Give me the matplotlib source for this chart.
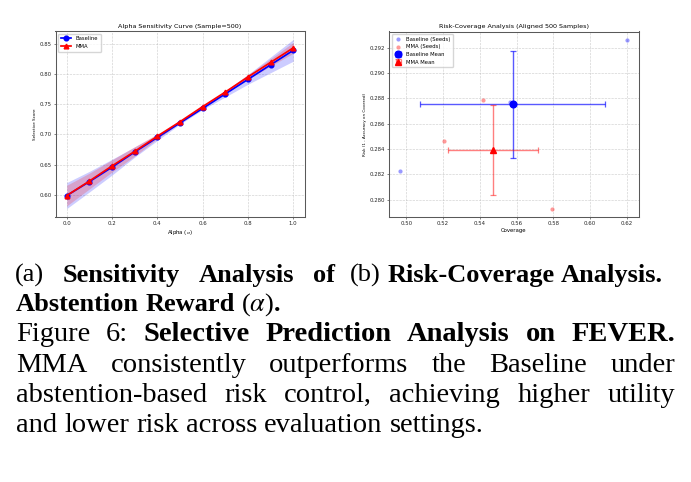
import numpy as np
import matplotlib
matplotlib.use("Agg")
import matplotlib.pyplot as plt

# ---------------- data ----------------
alpha_values = [0.0, 0.1, 0.2, 0.3, 0.4, 0.5, 0.6, 0.7, 0.8, 0.9, 1.0]
baseline_score = [0.599, 0.622, 0.646, 0.671, 0.695, 0.719, 0.743, 0.767, 0.791, 0.815, 0.839]
baseline_std = [0.0215, 0.017, 0.013, 0.0085, 0.005, 0.002, 0.002, 0.005, 0.008, 0.013, 0.018]
mma_score = [0.599, 0.623, 0.648, 0.672, 0.697, 0.721, 0.746, 0.770, 0.795, 0.819, 0.843]
mma_std = [0.017, 0.013, 0.010, 0.0077, 0.004, 0.002, 0.001, 0.002, 0.004, 0.006, 0.009]

baseline_coverage = [0.6202, 0.4968, 0.5565]
baseline_risk = [0.2926, 0.2823, 0.2877]
mma_coverage = [0.5420, 0.5205, 0.5795]
mma_risk = [0.28785, 0.2846, 0.2793]

left_xticks = [0.0, 0.2, 0.4, 0.6, 0.8, 1.0]
left_yticks = [0.60, 0.65, 0.70, 0.75, 0.80, 0.85]
right_xticks = [0.50, 0.52, 0.54, 0.56, 0.58, 0.60, 0.62]
right_yticks = [0.280, 0.282, 0.284, 0.286, 0.288, 0.290, 0.292]

# ---------------- figure ----------------
W, H = 691, 482
plt.rcParams["mathtext.fontset"] = "stix"
fig = plt.figure(figsize=(W / 100, H / 100), dpi=100)


def fx(px):
    return px / W


def fy(py):
    return 1 - py / H


def axes_px(x0, y0, x1, y1):
    return fig.add_axes([fx(x0), fy(y1), (x1 - x0) / W, (y1 - y0) / H])


TICK_FS = 3.9
LABEL_FS = 3.9
YLABEL_FS = 3.0
TITLE_FS = 4.6
LEG_FS = 3.8


def style_axes(ax):
    for s in ax.spines.values():
        s.set_color("0.35")
        s.set_linewidth(0.75)
    ax.tick_params(labelsize=TICK_FS, length=1.5, width=0.4, pad=1.3, colors="0.15")
    ax.grid(True, linestyle="--", linewidth=0.45, color="#b0b0b0", alpha=0.6)
    ax.set_axisbelow(True)


# ---- (a) alpha sensitivity ----
ax1 = axes_px(55.5, 31, 304.5, 217)
a = np.array(alpha_values)
bs, bsd = np.array(baseline_score), np.array(baseline_std)
ms, msd = np.array(mma_score), np.array(mma_std)
ax1.fill_between(a, bs - bsd, bs + bsd, color="blue", alpha=0.2, linewidth=0)
ax1.fill_between(a, ms - msd, ms + msd, color="red", alpha=0.2, linewidth=0)
ax1.plot(a, bs, "-o", color="blue", lw=1.25, ms=3.4, label="Baseline")
ax1.plot(a, ms, "-^", color="red", lw=1.25, ms=3.4, label="MMA")
ax1.set_xticks(left_xticks)
ax1.set_yticks(left_yticks)
ax1.set_title("Alpha Sensitivity Curve (Sample=500)", fontsize=TITLE_FS, pad=2.4)
ax1.set_xlabel(r"Alpha ($\alpha$)", fontsize=LABEL_FS, labelpad=1.5)
ax1.set_ylabel("Selective Score", fontsize=YLABEL_FS, labelpad=2.0)
style_axes(ax1)
ax1.legend(loc="upper left", fontsize=LEG_FS, frameon=True, edgecolor="0.8",
           borderpad=0.5, handlelength=2.0)

# ---- (b) risk coverage ----
ax2 = axes_px(389, 31.5, 638.5, 217)
bc, br = np.array(baseline_coverage), np.array(baseline_risk)
mc, mr = np.array(mma_coverage), np.array(mma_risk)
ax2.scatter(bc, br, s=9, color="blue", alpha=0.4, linewidths=0, label="Baseline (Seeds)", zorder=3)
ax2.scatter(mc, mr, s=9, color="red", alpha=0.4, linewidths=0, label="MMA (Seeds)", zorder=3)
ax2.errorbar(bc.mean(), br.mean(), xerr=bc.std(), yerr=br.std(), fmt="o", color="blue",
             ecolor=(0, 0, 1, 0.65), elinewidth=1.0, capsize=2.3, capthick=0.9, ms=4.8,
             label="Baseline Mean", zorder=4)
ax2.errorbar(mc.mean(), mr.mean(), xerr=mc.std(), yerr=mr.std(), fmt="^", color="red",
             ecolor=(1, 0, 0, 0.5), elinewidth=1.0, capsize=2.3, capthick=0.9, ms=4.6,
             label="MMA Mean", zorder=4)
ax2.set_xticks(right_xticks)
ax2.set_yticks(right_yticks)
ax2.set_title("Risk-Coverage Analysis (Aligned 500 Samples)", fontsize=TITLE_FS, pad=2.4)
ax2.set_xlabel("Coverage", fontsize=LABEL_FS, labelpad=1.5)
ax2.set_ylabel("Risk (1 - Accuracy on Covered)", fontsize=YLABEL_FS, labelpad=2.0)
style_axes(ax2)
ax2.legend(loc="upper left", fontsize=LEG_FS, frameon=True, edgecolor="0.8",
           borderpad=0.5, handlelength=1.5)

# ---------------- caption ----------------
SERIF = "Liberation Serif"
renderer = fig.canvas.get_renderer()
N, B = "normal", "bold"


def place_words(tokens, x0, x1, y, size, justify):
    placed, widths = [], []
    for tok in tokens:
        segs, tw = [], 0.0
        for s, wt in tok:
            t = fig.text(0, fy(y), s, fontsize=size, fontweight=wt, family=SERIF,
                         va="baseline", ha="left")
            w = t.get_window_extent(renderer).width
            segs.append((t, w))
            tw += w
        placed.append(segs)
        widths.append(tw)
    space = size * fig.dpi / 72 * 0.25
    if justify and len(tokens) > 1:
        gap = (x1 - x0 - sum(widths)) / (len(tokens) - 1)
    else:
        gap = space
    x = x0
    for segs, tw in zip(placed, widths):
        cx = x
        for t, w in segs:
            t.set_x(fx(cx))
            cx += w
        x += tw + gap


def words(text, wt):
    return [[(w, wt)] for w in text.split()]


SUB_FS = 19
MAIN_FS = 20.5

place_words([[("(a)", N)]] + words("Sensitivity Analysis of", B), 15, 335, 281.7, SUB_FS, True)
place_words([[("(b)", N)]] + words("Risk-Coverage Analysis.", B), 350, 674, 281.7, SUB_FS, False)
place_words(words("Abstention Reward", B) + [[(r"($\alpha$)", N), (".", B)]], 15.5, 335, 311, SUB_FS, False)
place_words(words("Figure 6:", N) + words("Selective Prediction Analysis on FEVER.", B),
            16, 675, 341, MAIN_FS, True)
place_words(words("MMA consistently outperforms the Baseline under", N), 16, 675, 371.7, MAIN_FS, True)
place_words(words("abstention-based risk control, achieving higher utility", N), 16, 675, 401.7, MAIN_FS, True)
place_words(words("and lower risk across evaluation settings.", N), 16, 675, 431.7, MAIN_FS, False)

fig.savefig("out.png", dpi=100)
